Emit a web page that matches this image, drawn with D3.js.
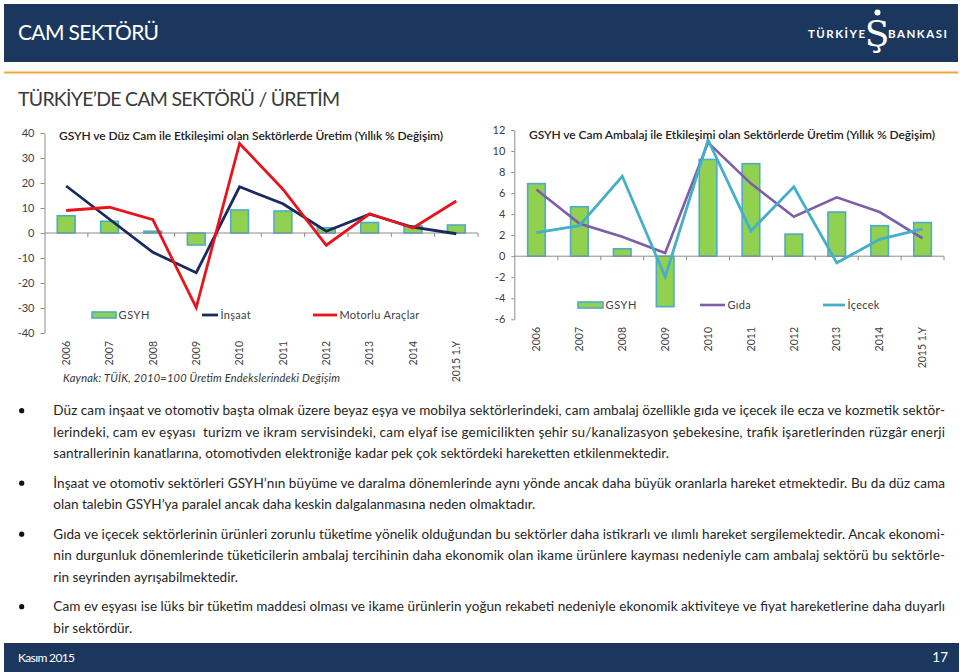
<!DOCTYPE html>
<html><head><meta charset="utf-8">
<script src="https://cdn.jsdelivr.net/npm/d3@7"></script>
<style>
html,body{margin:0;padding:0;background:#fff;}
svg{display:block;font-family:Lato,"Open Sans",sans-serif;}
</style></head><body>
<svg id="c" width="960" height="672"></svg>
<script>
// ---------- data ----------
const categories = ["2006","2007","2008","2009","2010","2011","2012","2013","2014","2015 1.Y"];
const gsyh    = [6.9, 4.7, 0.7, -4.8, 9.2, 8.8, 2.1, 4.2, 2.9, 3.2];
const insaat  = [18.8, 5.5, -7.7, -15.9, 18.5, 11.7, 0.7, 7.5, 2.3, -0.3];
const motorlu = [9.0, 10.3, 5.3, -29.8, 35.8, 17.5, -4.9, 7.7, 2.0, 12.8];
const gida    = [6.35, 3.1, 1.85, 0.3, 10.8, 6.9, 3.75, 5.6, 4.2, 1.7];
const icecek  = [2.25, 2.9, 7.6, -1.97, 11.05, 2.4, 6.6, -0.63, 1.6, 2.6];
const leftTicks  = [40,30,20,10,0,-10,-20,-30,-40];
const rightTicks = [12,10,8,6,4,2,0,-2,-4,-6];
const leftLegend  = ["GSYH","İnşaat","Motorlu Araçlar"];
const rightLegend = ["GSYH","Gıda","İçecek"];
const leftTitle  = "GSYH ve Düz Cam ile Etkileşimi olan Sektörlerde Üretim (Yıllık % Değişim)";
const rightTitle = "GSYH ve Cam Ambalaj ile Etkileşimi olan Sektörlerde Üretim (Yıllık % Değişim)";
const sourceNote = "Kaynak: TÜİK, 2010=100 Üretim Endekslerindeki Değişim";
const pageTitle = "CAM SEKTÖRÜ";
const sectionTitle = "TÜRKİYE’DE CAM SEKTÖRÜ / ÜRETİM";
const logoLeft = "TÜRKİYE", logoMark = "Ş", logoRight = "BANKASI";
const paragraphs = [
  ["Düz cam inşaat ve otomotiv başta olmak üzere beyaz eşya ve mobilya sektörlerindeki, cam ambalaj özellikle gıda ve içecek ile ecza ve kozmetik sektör-",
   "lerindeki, cam ev eşyası  turizm ve ikram servisindeki, cam elyaf ise gemicilikten şehir su/kanalizasyon şebekesine, trafik işaretlerinden rüzgâr enerji",
   "santrallerinin kanatlarına, otomotivden elektroniğe kadar pek çok sektördeki hareketten etkilenmektedir."],
  ["İnşaat ve otomotiv sektörleri GSYH’nın büyüme ve daralma dönemlerinde aynı yönde ancak daha büyük oranlarla hareket etmektedir. Bu da düz cama",
   "olan talebin GSYH’ya paralel ancak daha keskin dalgalanmasına neden olmaktadır."],
  ["Gıda ve içecek sektörlerinin ürünleri zorunlu tüketime yönelik olduğundan bu sektörler daha istikrarlı ve ılımlı hareket sergilemektedir. Ancak ekonomi-",
   "nin durgunluk dönemlerinde tüketicilerin ambalaj tercihinin daha ekonomik olan ikame ürünlere kayması nedeniyle cam ambalaj sektörü bu sektörle-",
   "rin seyrinden ayrışabilmektedir."],
  ["Cam ev eşyası ise lüks bir tüketim maddesi olması ve ikame ürünlerin yoğun rekabeti nedeniyle ekonomik aktiviteye ve fiyat hareketlerine daha duyarlı",
   "bir sektördür."]
];
const footerLeft = "Kasım 2015";
const pageNumber = "17";

// ---------- page ----------
const svg = d3.select("#c");
const NAVY = "#1b375e";

svg.append("rect").attr("x",4).attr("y",4).attr("width",954).attr("height",58).attr("fill",NAVY);
svg.append("text").attr("x",18).attr("y",40).attr("fill","#fff").attr("font-size",21)
  .attr("textLength",141).attr("lengthAdjust","spacing").text(pageTitle);
// logo
svg.append("text").attr("x",808).attr("y",38).attr("fill","#fff").attr("font-size",11.5).attr("font-weight",700)
  .attr("textLength",57).attr("lengthAdjust","spacing").text(logoLeft);
svg.append("text").attr("x",888).attr("y",38).attr("fill","#fff").attr("font-size",11.5).attr("font-weight",700)
  .attr("textLength",59).attr("lengthAdjust","spacing").text(logoRight);
svg.append("text").attr("x",877).attr("y",46).attr("fill","#fff").attr("font-size",36)
  .attr("text-anchor","middle").attr("font-family","'DejaVu Serif',serif").text(logoMark);
svg.append("circle").attr("cx",877.5).attr("cy",12.5).attr("r",3).attr("fill","#fff");

svg.append("rect").attr("x",4).attr("y",71.5).attr("width",954).attr("height",2).attr("fill","#f3a43a");
svg.append("text").attr("x",18).attr("y",106).attr("fill","#3a3a3a").attr("font-size",19.5)
  .attr("textLength",322).attr("lengthAdjust","spacing").text(sectionTitle);

// ---------- charts ----------
function drawChart(o){
  const g = svg.append("g");
  const x = d3.scaleBand().domain(categories).range([o.x0, o.x1]);
  const y = d3.scaleLinear().domain([o.ticks[o.ticks.length-1], o.ticks[0]]).range([o.yBottom, o.yTop]);
  const cx = c => x(c) + x.bandwidth()/2;

  const ya = g.append("g").attr("transform",`translate(${o.axisX},0)`)
    .call(d3.axisLeft(y).tickValues(o.ticks).tickSize(o.tickLen).tickSizeOuter(0).tickPadding(o.pad).tickFormat(d=>String(d)));
  ya.select(".domain").attr("stroke","#8c8c8c");
  ya.selectAll(".tick line").attr("stroke","#8c8c8c");
  ya.selectAll(".tick text").attr("fill","#404040").attr("font-size",11).attr("font-family","Lato,sans-serif");

  const bw = x.bandwidth()*0.41;
  g.selectAll("rect.bar").data(o.bars).join("rect").attr("class","bar")
    .attr("x",(d,i)=>cx(categories[i])-bw/2)
    .attr("y",d=>y(Math.max(0,d)))
    .attr("width",bw)
    .attr("height",d=>Math.abs(y(d)-y(0)))
    .attr("fill","#92d050").attr("stroke","#4bacc6").attr("stroke-width",1.6);

  g.append("line").attr("x1",o.axisX).attr("x2",o.x1).attr("y1",y(0)).attr("y2",y(0))
    .attr("stroke","#8c8c8c").attr("stroke-width",1);
  const bounds = categories.map(c=>x(c)).concat([o.x1]).slice(1);
  g.selectAll("line.xt").data(bounds).join("line").attr("class","xt")
    .attr("x1",d=>d).attr("x2",d=>d).attr("y1",y(0)).attr("y2",y(0)+4)
    .attr("stroke","#8c8c8c");

  g.selectAll("text.xl").data(categories).join("text").attr("class","xl")
    .attr("transform",d=>`translate(${cx(d)},${o.labelY}) rotate(-90)`)
    .attr("text-anchor","end").attr("dy","0.35em")
    .attr("font-size",10.5).attr("fill","#404040").text(d=>d);

  o.lines.forEach(s=>{
    const line = d3.line().x((d,i)=>cx(categories[i])).y(d=>y(d));
    g.append("path").datum(s.values).attr("d",line).attr("fill","none")
      .attr("stroke",s.color).attr("stroke-width",s.w).attr("stroke-linejoin","miter");
  });

  g.append("text").attr("x",o.titleX).attr("y",o.titleY).attr("font-size",12).attr("font-weight",600)
    .attr("fill","#222").attr("textLength",o.titleW).attr("lengthAdjust","spacing").text(o.title);

  const L = o.legend;
  g.append("rect").attr("x",L.sw[0]).attr("y",L.y-3).attr("width",L.sw[1]-L.sw[0]).attr("height",6)
    .attr("fill","#92d050").attr("stroke","#4bacc6").attr("stroke-width",1.6);
  g.append("text").attr("x",L.sw[1]+2.5).attr("y",L.y).attr("dy","0.35em").attr("font-size",11).attr("fill","#404040")
    .attr("letter-spacing",0.6).text(o.legendNames[0]);
  o.lines.forEach((s,i)=>{
    const seg = L.lines[i];
    g.append("line").attr("x1",seg[0]).attr("x2",seg[1]).attr("y1",L.y).attr("y2",L.y)
      .attr("stroke",s.color).attr("stroke-width",s.w);
    g.append("text").attr("x",seg[1]+2.5).attr("y",L.y).attr("dy","0.35em").attr("font-size",11).attr("fill","#404040")
      .attr("letter-spacing",0.3).text(o.legendNames[i+1]);
  });
}

drawChart({
  x0:44.5, x1:478, axisX:44.5, yTop:133, yBottom:333, ticks:leftTicks, tickLen:4, pad:6,
  bars:gsyh, labelY:341,
  lines:[{values:insaat,color:"#1a2a5e",w:2.8},{values:motorlu,color:"#e8141c",w:2.8}],
  title:leftTitle, titleX:59, titleY:139.5, titleW:384,
  legendNames:leftLegend,
  legend:{y:315, sw:[92,116], lines:[[202,218],[313,337]]}
});
drawChart({
  x0:515, x1:944, axisX:514.3, yTop:130, yBottom:319.3, ticks:rightTicks, tickLen:3, pad:6,
  bars:gsyh, labelY:327,
  lines:[{values:gida,color:"#7e5ea8",w:2.6},{values:icecek,color:"#45aec9",w:2.8}],
  title:rightTitle, titleX:529, titleY:138.5, titleW:406,
  legendNames:rightLegend,
  legend:{y:305, sw:[578,603], lines:[[700,725],[823,845]]}
});

svg.append("text").attr("x",63).attr("y",382).attr("font-size",11).attr("font-style","italic")
  .attr("fill","#333").attr("textLength",277).attr("lengthAdjust","spacing").text(sourceNote);

// ---------- bullet text ----------
const TX0 = 53.3, TX1 = 945, LH = 21.5, PG = 29.5;
const tg = svg.append("g").attr("font-size",14).attr("fill","#262626");
let yy = 415;
const items = [];
paragraphs.forEach(p=>{
  tg.append("circle").attr("cx",21.7).attr("cy",yy-4.3).attr("r",2.6).attr("fill","#111");
  p.forEach((ln,i)=>{
    const t = tg.append("text").attr("x",TX0).attr("y",yy).style("white-space","pre").text(ln);
    items.push({t, last: i===p.length-1});
    if(i<p.length-1) yy += LH;
  });
  yy += PG;
});
const fit = d3.min(items.filter(d=>!d.last), d=>(TX1-TX0)/d.t.node().getComputedTextLength());
const fs = 14*Math.min(1,fit)*0.995;
tg.attr("font-size",fs);
items.forEach(d=>{
  if(!d.last) d.t.attr("textLength",TX1-TX0).attr("lengthAdjust","spacing");
});

// ---------- footer ----------
svg.append("rect").attr("x",4).attr("y",643).attr("width",955).attr("height",29).attr("fill",NAVY);
svg.append("text").attr("x",18).attr("y",661.5).attr("fill","#fff").attr("font-size",12)
  .attr("textLength",57).attr("lengthAdjust","spacing").text(footerLeft);
svg.append("text").attr("x",948).attr("y",662).attr("fill","#fff").attr("font-size",13.5)
  .attr("text-anchor","end").text(pageNumber);
</script>
</body></html>
